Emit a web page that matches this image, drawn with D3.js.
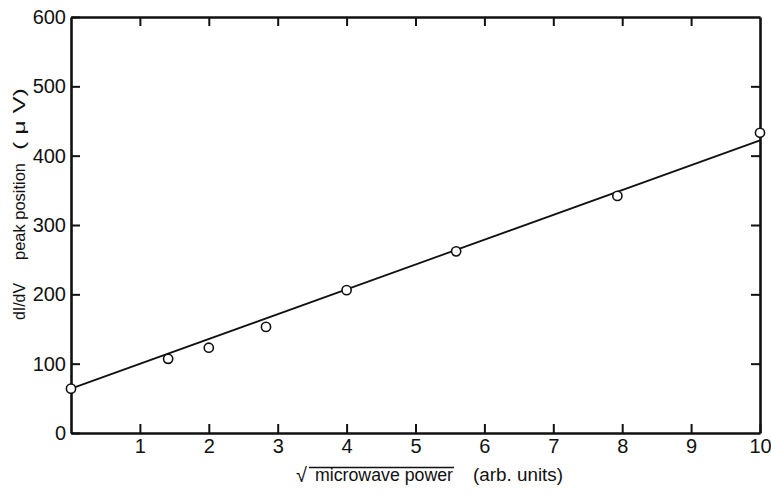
<!DOCTYPE html>
<html>
<head>
<meta charset="utf-8">
<script src="https://cdn.jsdelivr.net/npm/d3@7"></script>
<style>
  html, body { margin: 0; padding: 0; background: #fff; }
  svg { display: block; }
  text { font-family: "Liberation Sans", Arial, sans-serif; fill: #111; }
</style>
</head>
<body>
<svg id="chart" width="771" height="495"></svg>
<script>
// ---- data ----
const xValues = [0, 1.41, 2, 2.83, 4, 5.59, 7.93, 10];
const yValues = [64, 107, 123, 153, 206, 262, 342, 433];
const fitX = [0, 10];
const fitY = [64, 422];
const xTicks = [1, 2, 3, 4, 5, 6, 7, 8, 9, 10];
const yTicks = [0, 100, 200, 300, 400, 500, 600];
const xTitle = "microwave power";
const xUnits = "(arb. units)";
const yTitleParts = ["dI/dV", "peak position", "( \u03BC V)"];

// ---- layout ----
const mLeft = 71, mRight = 760, mTop = 17, mBottom = 433;
const svg = d3.select("#chart");
const x = d3.scaleLinear().domain([0, 10]).range([mLeft, mRight]);
const y = d3.scaleLinear().domain([0, 600]).range([mBottom, mTop]);

function styleAxis(g) {
  g.select(".domain").attr("stroke", "#111").attr("stroke-width", 2.6);
  g.selectAll(".tick line").attr("stroke", "#111").attr("stroke-width", 2);
  g.selectAll(".tick text").attr("font-size", 20).attr("fill", "#111")
    .attr("font-family", "'Liberation Sans', Arial, sans-serif");
}

// bottom axis
svg.append("g").attr("transform", `translate(0,${mBottom})`)
  .call(d3.axisBottom(x).tickValues(xTicks).tickSizeInner(-9).tickSizeOuter(0).tickPadding(6).tickFormat(d3.format("d")))
  .call(styleAxis);
// top axis (ticks only)
svg.append("g").attr("transform", `translate(0,${mTop})`)
  .call(d3.axisTop(x).tickValues(xTicks.slice(0, 9)).tickSizeInner(-9).tickSizeOuter(0).tickFormat(""))
  .call(styleAxis);
// left axis
svg.append("g").attr("transform", `translate(${mLeft},0)`)
  .call(d3.axisLeft(y).tickValues(yTicks).tickSizeInner(-9).tickSizeOuter(0).tickPadding(5).tickFormat(d3.format("d")))
  .call(styleAxis);
// right axis (ticks only)
svg.append("g").attr("transform", `translate(${mRight},0)`)
  .call(d3.axisRight(y).tickValues(yTicks.slice(1, 6)).tickSizeInner(-9).tickSizeOuter(0).tickFormat(""))
  .call(styleAxis);

// fit line
const line = d3.line().x(d => x(d[0])).y(d => y(d[1]));
svg.append("path")
  .datum(fitX.map((v, i) => [v, fitY[i]]))
  .attr("d", line)
  .attr("fill", "none").attr("stroke", "#111").attr("stroke-width", 1.8);

// data points
svg.append("g").selectAll("circle")
  .data(xValues.map((v, i) => [v, yValues[i]]))
  .join("circle")
  .attr("cx", d => x(d[0])).attr("cy", d => y(d[1]))
  .attr("r", 4.6)
  .attr("fill", "#fff").attr("stroke", "#111").attr("stroke-width", 1.6);

// x title
svg.append("text").attr("x", 296).attr("y", 482).attr("font-size", 20).text("\u221A");
svg.append("line").attr("x1", 309).attr("x2", 454).attr("y1", 467.5).attr("y2", 467.5)
  .attr("stroke", "#111").attr("stroke-width", 1.4);
svg.append("text").attr("x", 315).attr("y", 481).attr("font-size", 17.5)
  .attr("textLength", 138).attr("lengthAdjust", "spacingAndGlyphs").text(xTitle);
svg.append("text").attr("x", 473).attr("y", 481).attr("font-size", 17.5)
  .attr("textLength", 90).attr("lengthAdjust", "spacingAndGlyphs").text(xUnits);

// y title (three pieces along the rotated baseline)
const yTitleStart = [320, 260, 150];
const yTitleLen = [37, 97, 62];
yTitleParts.forEach((t, i) => {
  svg.append("text")
    .attr("transform", `translate(25,${yTitleStart[i]}) rotate(-90)`)
    .attr("font-size", 17)
    .attr("textLength", yTitleLen[i]).attr("lengthAdjust", "spacingAndGlyphs")
    .text(t);
});
</script>
</body>
</html>
